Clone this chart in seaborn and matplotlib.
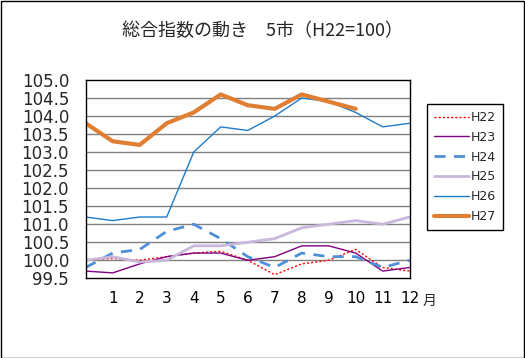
import numpy as np
import pandas as pd
import matplotlib
matplotlib.use("Agg")
import matplotlib.pyplot as plt
from matplotlib.patches import Rectangle
import seaborn as sns

sns.set_style("white")
plt.rcParams['font.family'] = ['DejaVu Sans', 'Noto Sans CJK JP']

months = list(range(0, 13))
tick_labels = [str(m) for m in range(1, 13)]
H22 = [100.0, 100.05, 100.0, 100.1, 100.2, 100.25, 100.0, 99.6, 99.9, 100.0, 100.3, 99.8, 99.7]
H23 = [99.7, 99.65, 99.9, 100.1, 100.2, 100.2, 100.0, 100.1, 100.4, 100.4, 100.2, 99.7, 99.8]
H24 = [99.8, 100.2, 100.3, 100.8, 101.0, 100.6, 100.1, 99.8, 100.2, 100.1, 100.1, 99.8, 100.0]
H25 = [100.0, 100.1, 99.95, 100.0, 100.4, 100.4, 100.5, 100.6, 100.9, 101.0, 101.1, 101.0, 101.2]
H26 = [101.2, 101.1, 101.2, 101.2, 103.0, 103.7, 103.6, 104.0, 104.5, 104.4, 104.1, 103.7, 103.8]
H27 = [103.8, 103.3, 103.2, 103.8, 104.1, 104.6, 104.3, 104.2, 104.6, 104.4, 104.2, np.nan, np.nan]

series = [
    ("H22", H22, "#FF0000", (0, (1.5, 1.5)), 1.0),
    ("H23", H23, "#800080", "-", 1.0),
    ("H24", H24, "#4F8FD8", (0, (4, 3)), 2.0),
    ("H25", H25, "#C9B8DC", "-", 2.0),
    ("H26", H26, "#1F7BC8", "-", 1.0),
    ("H27", H27, "#E07F33", "-", 3.0),
]

W, H = 525, 358
fig = plt.figure(figsize=(W / 100, H / 100), dpi=100)
ax = fig.add_axes([85.7 / W, 1 - 278.3 / H, (409.7 - 85.7) / W, (278.3 - 80) / H])

for name, vals, color, ls, lw in series:
    df = pd.DataFrame({"month": months, "value": vals})
    sns.lineplot(data=df, x="month", y="value", ax=ax, color=color,
                 linestyle=ls, linewidth=lw, label=name)

ax.set_xlim(0, 12)
ax.set_ylim(99.5, 105.0)
ax.set_xticks(range(1, 13))
ax.set_xticklabels(tick_labels, fontsize=11)
yt = np.arange(99.5, 105.01, 0.5)
ax.set_yticks(yt)
ax.set_yticklabels([f"{v:.1f}" for v in yt], fontsize=12)
ax.set_xlabel("")
ax.set_ylabel("")
for v in np.arange(100.0, 104.51, 0.5):
    ax.axhline(v, color="#808080", lw=1.0, zorder=0)
for s in ax.spines.values():
    s.set_color("black")
    s.set_linewidth(1.0)
ax.tick_params(axis="x", direction="in", length=4, width=1, pad=9, colors="black")
ax.tick_params(axis="y", length=0, pad=12)

ax.legend_.remove()
handles, labels = ax.get_legend_handles_labels()
leg = fig.legend(handles, labels, loc="upper left",
                 bbox_to_anchor=(426.7 / W, 1 - 104 / H), borderaxespad=0,
                 fontsize=9, handlelength=2.8, labelspacing=0.55,
                 frameon=True, fancybox=False, framealpha=1,
                 edgecolor="black", borderpad=0.55, handletextpad=0.2)
leg.get_frame().set_linewidth(1.0)

fig.text(262 / W, 1 - 31 / H, "総合指数の動き　5市（H22=100）", ha="center", va="center",
         fontsize=13, family=['Noto Sans CJK JP', 'DejaVu Sans'])
fig.text(430 / W, 1 - 301 / H, "月", ha="center", va="center", fontsize=10,
         family=['Noto Sans CJK JP', 'DejaVu Sans'])

fig.add_artist(Rectangle((0.5 / W, 0.5 / H), (W - 1.5) / W, (H - 1.5) / H,
                         transform=fig.transFigure, fill=False, edgecolor="black", lw=1.0))

fig.savefig("out.png", dpi=100)
